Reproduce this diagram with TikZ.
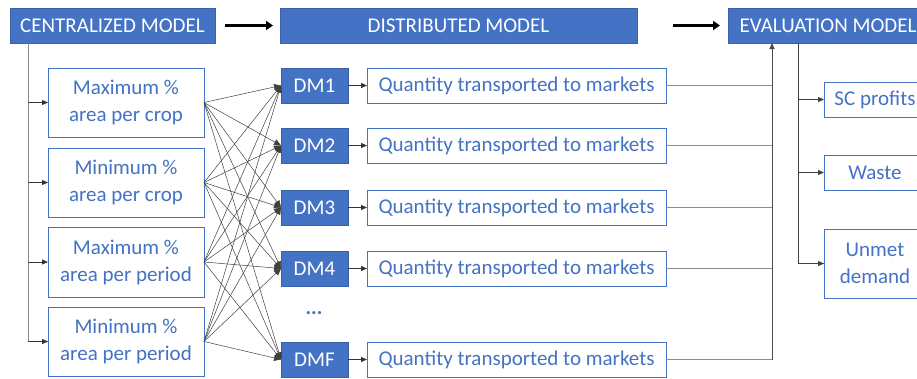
\documentclass[tikz,border=0pt]{standalone}
\usepackage{fontspec}
\setmainfont{Carlito}
\usetikzlibrary{arrows.meta}
\definecolor{blu}{HTML}{4472C4}
\definecolor{lgray}{HTML}{8C8C8C}
\begin{document}
\begin{tikzpicture}[x=1pt,y=-1pt,
  every node/.style={inner sep=0pt, outer sep=0pt, font=\fontsize{21}{27}\selectfont},
  hdr/.style={fill=blu, draw=blu!85!black, line width=0.8pt, text=white, anchor=north west},
  wbox/.style={fill=white, draw=blu, line width=1pt, text=blu, align=center, anchor=north west},
  dmbox/.style={fill=blu, draw=blu!85!black, line width=0.8pt, text=white, anchor=north west},
  ln/.style={draw=lgray, line width=1pt},
  sarr/.style={-{Triangle[length=6pt,width=5pt]}},
  cross/.style={draw=black!75, line width=0.5pt, -{Triangle[length=7pt,width=6pt]}},
  big/.style={line width=3.5pt, -{Triangle[length=7pt,width=9pt]}}
]
\useasboundingbox (0,0) rectangle (917,378);
\clip (0,0) rectangle (917,378);
\fill[white] (0,0) rectangle (917,378);

% headers
\node[hdr, minimum width=205, minimum height=35] (cm) at (10,8) {CENTRALIZED MODEL};
\node[hdr, minimum width=357, minimum height=35] (dm) at (280,8) {DISTRIBUTED MODEL};
\node[hdr, minimum width=200, minimum height=35] (em) at (728,8) {EVALUATION MODEL};
\draw[big] (cm.east) ++(10,0) coordinate (a1s) -- ([xshift=-7]dm.west) coordinate (a1e);
\draw[big] (dm.east) ++(36,0) coordinate (a2s) -- ([xshift=-8]em.west) coordinate (a2e);

% left boxes
\node[wbox, minimum width=156, minimum height=69] (b1) at (48,68) {Maximum \%\\area per crop};
\node[wbox, minimum width=156, minimum height=69] (b2) at (48,148) {Minimum \%\\area per crop};
\node[wbox, minimum width=156, minimum height=70] (b3) at (48,227) {Maximum \%\\area per period};
\node[wbox, minimum width=156, minimum height=69] (b4) at (48,307) {Minimum \%\\area per period};

\coordinate (lx) at (28,43);
\draw[ln] (lx) |- (b4.west);
\foreach \b in {b1,b2,b3,b4} \draw[ln, draw=black!80, sarr] (lx |- \b.west) -- (\b.west);

% DM boxes and quantity boxes
\foreach \n/\lab/\y in {d1/DM1/68, d2/DM2/128, d3/DM3/190, d4/DM4/251, d5/DMF/342}{
  \node[dmbox, minimum width=67, minimum height=35] (\n) at (281,\y) {\lab};
  \node[wbox, minimum width=299, minimum height=35] (q\n) at (367,\y) {Quantity transported to markets};
  \draw[ln, draw=black!80, sarr] (\n.east) -- (q\n.west);
}
\node[text=blu] (dots) at (314,313) {\textbf{...}};

% cross connections
\foreach \b in {b1,b2,b3,b4}
  \foreach \d in {d1,d2,d3,d4,d5}
    \draw[cross] (\b.east) -- (\d.west);

% bus to evaluation
\coordinate (bus) at (772,360);
\foreach \d in {d1,d2,d3,d4,d5} \draw[ln] (q\d.east) -- (q\d.east -| bus);
\draw[ln, draw=black!70, sarr] (bus) -- (bus |- em.south);

% evaluation outputs
\node[wbox, minimum width=102, minimum height=35] (o1) at (824,82) {SC profits};
\node[wbox, minimum width=102, minimum height=35] (o2) at (824,155) {Waste};
\node[wbox, minimum width=102, minimum height=69] (o3) at (824,229) {Unmet\\demand};
\coordinate (ex) at (798,43);
\draw[ln, draw=black!75] (ex) |- (o3.west);
\foreach \o in {o1,o2,o3} \draw[ln, draw=black!75, sarr] (ex |- \o.west) -- (\o.west);
\end{tikzpicture}
\end{document}
